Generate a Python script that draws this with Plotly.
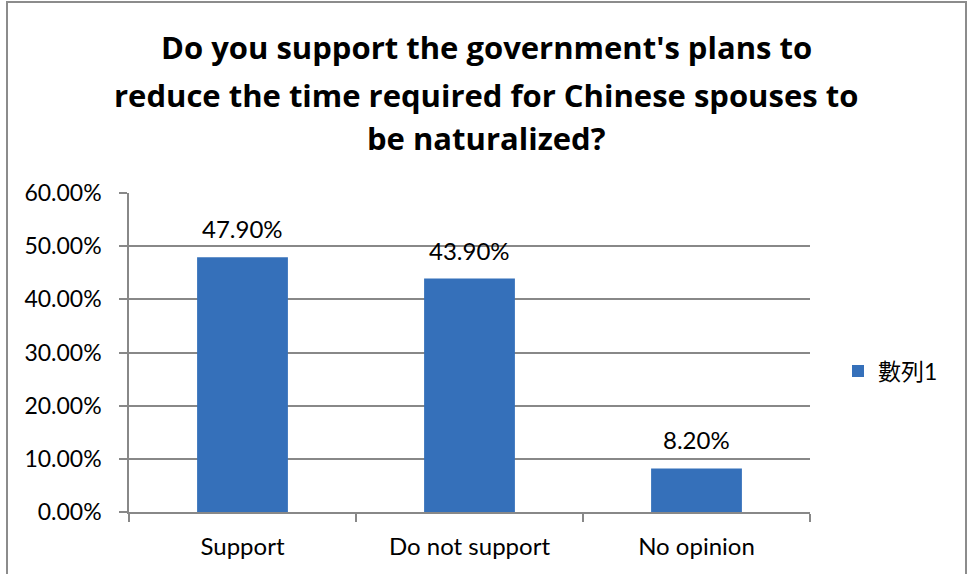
import plotly.graph_objects as go

# Survey results
categories = ["Support", "Do not support", "No opinion"]
values = [0.479, 0.439, 0.082]
series_name = "數列1"
title_lines = [
    "Do you support the government's plans to",
    "reduce the time required for Chinese spouses to",
    "be naturalized?",
]

W, H = 968, 574
L, R, T, B = 129, 158, 193, 62
pw, ph = W - L - R, H - T - B


def px_x(x):
    return (x - L) / pw


def px_y(y):
    return (H - B - y) / ph


FONT = "Lato, Noto Sans CJK TC, sans-serif"
TITLE_FONT = "Open Sans, Lato, sans-serif"
GRID = "#888888"

fig = go.Figure()
fig.add_trace(go.Bar(
    x=categories,
    y=values,
    name=series_name,
    marker=dict(color="#3570BA", line=dict(width=0)),
    showlegend=True,
))

# value labels above the bars
for c, v in zip(categories, values):
    fig.add_annotation(
        x=c, y=v, text=f"{v * 100:.2f}%", showarrow=False,
        yanchor="bottom", yshift=12,
        font=dict(family=FONT, size=24, color="#000000"),
    )

# three-line title
title_centers = [47, 95, 138]
for line, yc in zip(title_lines, title_centers):
    fig.add_annotation(
        xref="paper", yref="paper", x=px_x(486), y=px_y(yc),
        text=f"<b>{line}</b>", showarrow=False,
        xanchor="center", yanchor="middle",
        font=dict(family=TITLE_FONT, size=31, color="#000000"),
    )

# chart frame
fig.add_shape(
    type="rect", xref="paper", yref="paper",
    x0=px_x(7), x1=px_x(966), y0=px_y(2), y1=px_y(H + 20),
    line=dict(color="#8c8c8c", width=2), fillcolor="rgba(0,0,0,0)",
    layer="below",
)

fig.update_layout(
    width=W, height=H,
    margin=dict(l=L, r=R, t=T, b=B, pad=0),
    paper_bgcolor="white", plot_bgcolor="white",
    bargap=0.6,
    font=dict(family=FONT, size=24, color="#000000"),
    legend=dict(
        x=px_x(838), y=px_y(371), xanchor="left", yanchor="middle",
        font=dict(family=FONT, size=23, color="#000000"),
        bgcolor="rgba(0,0,0,0)", itemwidth=30,
    ),
    xaxis=dict(
        showgrid=False, showline=True, linecolor=GRID, linewidth=1.5,
        ticks="outside", tickson="boundaries", ticklen=8, tickcolor=GRID,
        tickwidth=1.5, tickfont=dict(family=FONT, size=24),
        ticklabelstandoff=12,
        fixedrange=True,
    ),
    yaxis=dict(
        range=[0, 0.6], dtick=0.1, tickformat=".2%",
        showgrid=True, gridcolor=GRID, gridwidth=1.5,
        showline=True, linecolor=GRID, linewidth=1.5,
        ticks="outside", ticklen=8, tickcolor=GRID, tickwidth=1.5,
        tickfont=dict(family=FONT, size=23), zeroline=False,
        ticklabelstandoff=13,
        fixedrange=True,
    ),
)

fig.write_html("out.html")
